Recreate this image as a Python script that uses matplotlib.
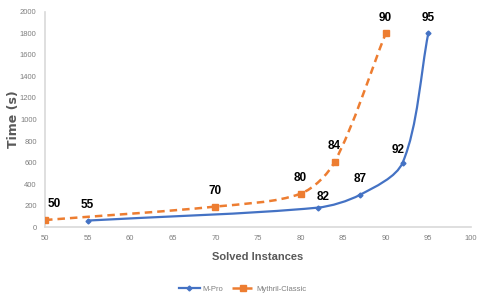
import numpy as np
import matplotlib
matplotlib.use("Agg")
import matplotlib.pyplot as plt
from matplotlib.path import Path
from matplotlib.patches import PathPatch
from matplotlib.lines import Line2D

plt.rcParams['font.family'] = ['Liberation Sans', 'DejaVu Sans']

# data
mpro_x = [55, 82, 87, 92, 95]
mpro_y = [60, 180, 300, 600, 1800]
myth_x = [50, 70, 80, 84, 90]
myth_y = [65, 190, 310, 605, 1800]
x_ticks = list(range(50, 101, 5))
y_ticks = list(range(0, 2001, 200))

BLUE = '#4472C4'
ORANGE = '#ED7D31'

# rough pixel scale of the axes, used so the smoothing looks like excel's
SX = 426 / 50
SY = 215 / 2000


def smooth_path(xs, ys, k=0.3):
    pts = np.column_stack([np.asarray(xs) * SX, np.asarray(ys) * SY]).astype(float)
    n = len(pts)
    tang = []
    for i in range(n):
        d = pts[min(i + 1, n - 1)] - pts[max(i - 1, 0)]
        tang.append(d / np.hypot(*d))
    verts = [pts[0]]
    codes = [Path.MOVETO]
    for i in range(n - 1):
        L = np.hypot(*(pts[i + 1] - pts[i]))
        verts += [pts[i] + tang[i] * L * k, pts[i + 1] - tang[i + 1] * L * k, pts[i + 1]]
        codes += [Path.CURVE4] * 3
    verts = np.array(verts) / [SX, SY]
    return Path(verts, codes)


fig = plt.figure(figsize=(4.85, 3.05), dpi=100)
ax = fig.add_axes([0.0928, 0.2557, 0.878, 0.705])

ax.add_patch(PathPatch(smooth_path(myth_x, myth_y), fill=False, edgecolor=ORANGE,
                       lw=1.8, linestyle=(0, (3, 2)), zorder=3))
ax.add_patch(PathPatch(smooth_path(mpro_x, mpro_y), fill=False, edgecolor=BLUE,
                       lw=1.6, zorder=3))
ax.plot(myth_x, myth_y, 's', color=ORANGE, ms=4, zorder=4)
ax.plot(mpro_x, mpro_y, 'D', color=BLUE, ms=2.5, zorder=4)

lbl = dict(ha='center', va='bottom', fontsize=8.5, fontweight='bold', color='black')
for x, y in zip(myth_x, myth_y):
    dx = 7 if x == 50 else 0
    ax.annotate(str(x), (x, y), xytext=(dx, 7), textcoords='offset points', **lbl)
for x, y in zip(mpro_x, mpro_y):
    dx = 4 if x == 82 else (-3 if x == 92 else 0)
    dy = 3 if x == 82 else (5 if x == 92 else 7)
    ax.annotate(str(x), (x, y), xytext=(dx, dy), textcoords='offset points', **lbl)

ax.set_xlim(50, 100)
ax.set_ylim(0, 2000)
ax.set_xticks(x_ticks)
ax.set_yticks(y_ticks)
ax.tick_params(length=0, labelsize=5.5, labelcolor='#7f7f7f', pad=6)
for s in ['top', 'right']:
    ax.spines[s].set_visible(False)
for s in ['left', 'bottom']:
    ax.spines[s].set_color('#d9d9d9')
    ax.spines[s].set_linewidth(1.2)

ax.set_xlabel('Solved Instances', fontsize=8, fontweight='bold', color='#595959', labelpad=7)
ax.set_ylabel('Time (s)', fontsize=9, fontweight='bold', color='#595959',
              family=['DejaVu Sans'])
ax.yaxis.set_label_coords(-0.058, 0.5)

handles = [Line2D([], [], color=BLUE, lw=1.6, marker='D', ms=2.5),
           Line2D([], [], color=ORANGE, lw=1.8, ls=(0, (3, 2)), marker='s', ms=4)]
fig.legend(handles, ['M-Pro', 'Mythril-Classic'], loc='center', bbox_to_anchor=(0.5, 0.052),
           ncol=2, frameon=False, fontsize=5.5, labelcolor='#7f7f7f',
           handlelength=2.8, columnspacing=1.2, handletextpad=0.3)

fig.savefig('out.png', dpi=100)
